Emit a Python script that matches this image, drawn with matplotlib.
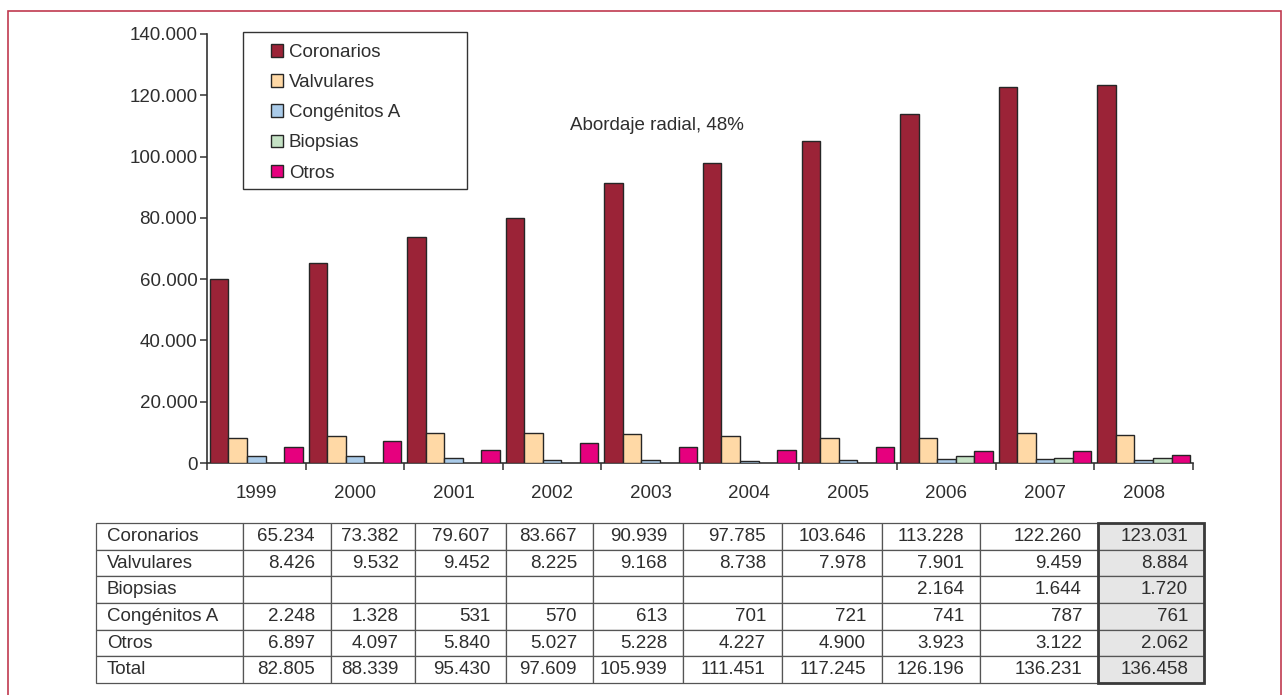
import numpy as np
import matplotlib
matplotlib.use('Agg')
import matplotlib.pyplot as plt
from matplotlib.patches import Rectangle
from matplotlib.ticker import FuncFormatter

plt.rcParams['font.family'] = ['Liberation Sans', 'DejaVu Sans']

# ---- data ----
years = ['1999', '2000', '2001', '2002', '2003', '2004', '2005', '2006', '2007', '2008']
series_names = ['Coronarios', 'Valvulares', 'Congénitos A', 'Biopsias', 'Otros']

# bar heights (estimated from the bars)
coronarios = [60000, 65400, 73800, 79900, 91300, 97800, 105000, 113800, 122800, 123200]
valvulares = [8300, 8900, 9800, 9800, 9400, 8700, 8300, 8300, 9800, 9300]
congenitos = [2300, 2300, 1600, 900, 850, 800, 900, 1200, 1200, 1100]
biopsias = [np.nan, np.nan, np.nan, np.nan, np.nan, np.nan, np.nan, 2400, 1700, 1600]
otros = [5300, 7200, 4100, 6400, 5200, 4200, 5100, 3800, 3800, 2600]

# table below the chart
table_rows = ['Coronarios', 'Valvulares', 'Biopsias', 'Congénitos A', 'Otros', 'Total']
t_coronarios = [65234, 73382, 79607, 83667, 90939, 97785, 103646, 113228, 122260, 123031]
t_valvulares = [8426, 9532, 9452, 8225, 9168, 8738, 7978, 7901, 9459, 8884]
t_biopsias = [None, None, None, None, None, None, None, 2164, 1644, 1720]
t_congenitos = [2248, 1328, 531, 570, 613, 701, 721, 741, 787, 761]
t_otros = [6897, 4097, 5840, 5027, 5228, 4227, 4900, 3923, 3122, 2062]
t_total = [82805, 88339, 95430, 97609, 105939, 111451, 117245, 126196, 136231, 136458]

note = 'Abordaje radial, 48%'

# ---- styling ----
colors = ['#9b2337', '#ffd9a6', '#aacbe9', '#c5e2c5', '#e6007e']
txt_col = '#2e2e2e'
fs = 13.5
W, H = 1283, 695


def fx(px):
    return px / W


def fy(py):
    return 1 - py / H


def fmt(v):
    if v is None:
        return ''
    return f'{int(v):,}'.replace(',', '.')


fig = plt.figure(figsize=(W / 100, H / 100), dpi=100)

# chart
ax = fig.add_axes([fx(207), fy(463), fx(1193 - 207), (463 - 34) / H])
x = np.arange(len(years))
bw = 0.188
series = [coronarios, valvulares, congenitos, biopsias, otros]
handles = []
for k, (vals, c) in enumerate(zip(series, colors)):
    b = ax.bar(x + (k - 2) * bw, vals, bw, color=c, edgecolor='#262626',
               linewidth=1.0, zorder=3)
    handles.append(b)

ax.set_xlim(-0.5, len(years) - 0.5)
ax.set_ylim(0, 140000)
ax.set_yticks(np.arange(0, 140001, 20000))
ax.yaxis.set_major_formatter(FuncFormatter(lambda v, p: fmt(v)))
ax.set_xticks(x)
ax.set_xticklabels(years)
ax.set_xticks(np.arange(-0.5, len(years), 1), minor=True)
ax.tick_params(axis='x', which='major', length=0, pad=16, labelsize=fs, labelcolor=txt_col)
ax.tick_params(axis='x', which='minor', length=5, width=1.1, color='#333333', direction='out')
ax.tick_params(axis='y', length=5, width=1.1, color='#333333', pad=2,
               labelsize=fs, labelcolor=txt_col)
for s in ['top', 'right']:
    ax.spines[s].set_visible(False)
for s in ['left', 'bottom']:
    ax.spines[s].set_color('#333333')
    ax.spines[s].set_linewidth(1.2)

# legend with its own square frame
ax.add_patch(Rectangle((fx(243), fy(189)), fx(467 - 243), (189 - 32) / H,
                       transform=fig.transFigure, facecolor='white',
                       edgecolor='#333333', linewidth=1.0, clip_on=False, zorder=4))
leg = ax.legend(handles, series_names, loc='upper left',
                bbox_to_anchor=(fx(271), fy(44)), bbox_transform=fig.transFigure,
                frameon=False, borderpad=0, borderaxespad=0, fontsize=fs,
                handlelength=0.65, handleheight=0.65, handletextpad=0.3,
                labelspacing=0.7, labelcolor=txt_col)
leg.set_zorder(5)

fig.text(fx(570), fy(126), note, fontsize=fs, color=txt_col, va='center', ha='left')

# table
col_edges = [96, 243, 331, 415, 506, 593, 683, 782, 882, 980, 1098, 1204]
widths = np.diff(col_edges) / (col_edges[-1] - col_edges[0])
tax = fig.add_axes([fx(96), fy(683), fx(1204 - 96), (683 - 523) / H])
tax.axis('off')
values = [t_coronarios, t_valvulares, t_biopsias, t_congenitos, t_otros, t_total]
cell_text = [[name] + [fmt(v) for v in vals] for name, vals in zip(table_rows, values)]
tbl = tax.table(cellText=cell_text, colWidths=widths, cellLoc='right', bbox=[0, 0, 1, 1])
tbl.auto_set_font_size(False)
tbl.set_fontsize(fs)
ncol = len(col_edges) - 1
for (r, c), cell in tbl.get_celld().items():
    cell.set_edgecolor('#555555')
    cell.set_linewidth(0.9)
    cell.get_text().set_color(txt_col)
    wpx = col_edges[c + 1] - col_edges[c]
    if c == 0:
        cell._loc = 'left'
        cell.get_text().set_horizontalalignment('left')
        cell.PAD = 11 / wpx
    else:
        cell.PAD = 16 / wpx
    if c == ncol - 1:
        cell.set_facecolor('#e6e6e6')
tax.add_patch(Rectangle((widths[:-1].sum(), 0), widths[-1], 1, transform=tax.transAxes,
                        fill=False, edgecolor='#3a3a3a', linewidth=2.0, clip_on=False, zorder=5))

# outer frame of the figure
fig.patches.append(Rectangle((fx(7.5), -0.05), fx(1281 - 7.5), fy(10.5) + 0.05,
                             transform=fig.transFigure, fill=False,
                             edgecolor='#c0394f', linewidth=1.2))

fig.savefig('out.png', dpi=100)
